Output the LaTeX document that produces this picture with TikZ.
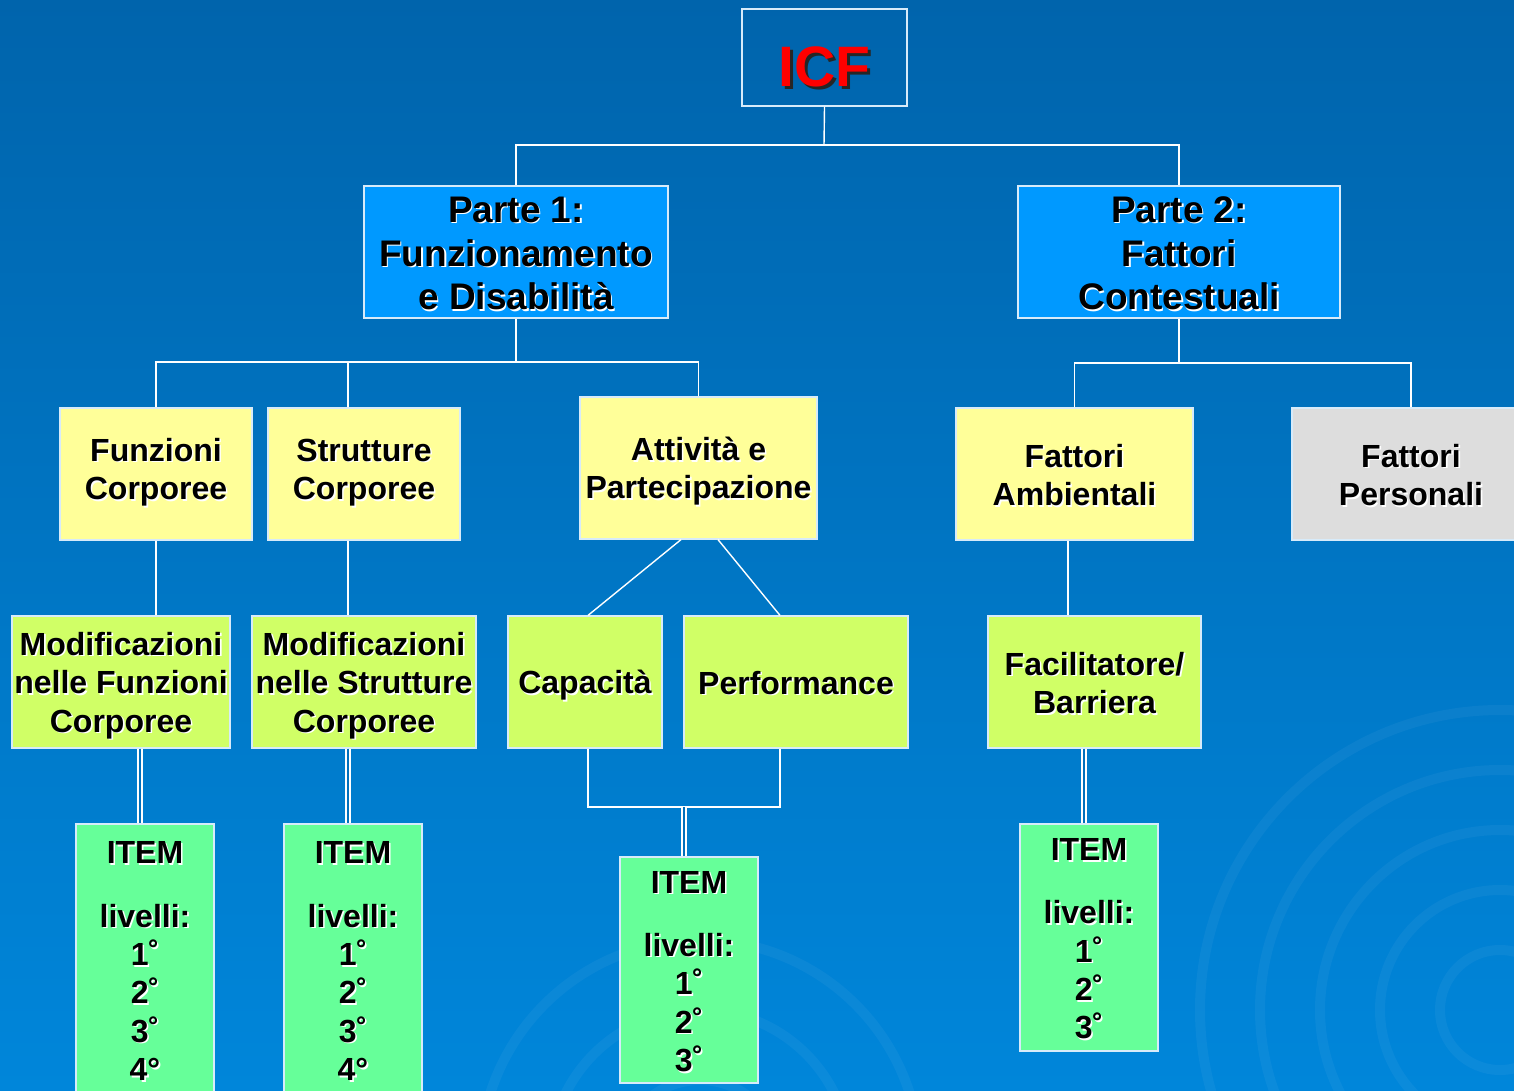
\documentclass[tikz,border=0pt]{standalone}
\usepackage{fontspec}
\setmainfont{Liberation Sans}
\usetikzlibrary{calc}
\definecolor{bgtop}{RGB}{0,100,172}
\definecolor{bgbot}{RGB}{0,134,218}
\definecolor{bgmid}{RGB}{0,112,188}
\definecolor{partfill}{RGB}{0,153,255}
\definecolor{yelfill}{RGB}{255,255,153}
\definecolor{limefill}{RGB}{208,255,102}
\definecolor{itemfill}{RGB}{102,255,153}
\definecolor{grayfill}{RGB}{221,221,221}
\definecolor{icfred}{RGB}{255,0,0}
\definecolor{edgecol}{RGB}{215,235,250}
\newcommand\tsh[1]{\makebox[0pt][l]{\hspace{1.6pt}\raisebox{-1.6pt}{\color{white}#1}}#1}
\newcommand\tl[1]{\rule[-0.18\baselineskip]{0pt}{\baselineskip}\tsh{#1}}
\newcommand\dsh[1]{\makebox[0pt][l]{\hspace{3pt}\raisebox{-3pt}{\color{black!85}#1}}#1}
\tikzset{
  box/.style={draw=edgecol, line width=1.2pt, rectangle, inner sep=0pt, align=center,
    font=\fontsize{32}{38.4}\selectfont\bfseries, text=black},
  partbox/.style={box, fill=partfill, font=\fontsize{37}{43.8}\selectfont\bfseries},
  yelbox/.style={box, fill=yelfill},
  limebox/.style={box, fill=limefill},
  graybox/.style={box, fill=grayfill},
  itembox/.style={box, fill=itemfill},
  conn/.style={draw=white, line width=1.4pt},
  dbl/.style={draw=white, line width=1.3pt, double=bgmid, double distance=2.6pt},
}
\begin{document}
\begin{tikzpicture}[x=1pt,y=-1pt]
\useasboundingbox (0,0) rectangle (1514,1091);
\clip (0,0) rectangle (1514,1091);
\shade[top color=bgtop, bottom color=bgbot] (0,0) rectangle (1514,1091);
% faint swirls
\begin{scope}[white, opacity=0.045, line width=10pt]
  \foreach \r in {60,120,180,240,300} {\draw (1500,1010) circle (\r);}
  \foreach \r in {80,150,220} {\draw (700,1160) circle (\r);}
\end{scope}

% nodes
\node[box, minimum width=165pt, minimum height=97pt, text height=70pt, text depth=11.2pt,
  font=\fontsize{57}{60}\selectfont\bfseries, text=icfred] (icf) at (824.5,57.5) {\dsh{ICF}};
\node[partbox, minimum width=304pt, minimum height=132pt] (p1) at (516,252)
  {\tl{Parte 1:}\\\tl{Funzionamento}\\\tl{e Disabilità}};
\node[partbox, minimum width=322pt, minimum height=132pt] (p2) at (1179,252)
  {\tl{Parte 2:}\\\tl{Fattori}\\\tl{Contestuali}};

\node[yelbox, minimum width=192pt, minimum height=132pt] (fun) at (156,474)
  {\tl{Funzioni}\\\tl{Corporee}\rule[-19pt]{0pt}{1pt}};
\node[yelbox, minimum width=192pt, minimum height=132pt] (str) at (364,474)
  {\tl{Strutture}\\\tl{Corporee}\rule[-19pt]{0pt}{1pt}};
\node[yelbox, minimum width=237pt, minimum height=142pt] (att) at (698.5,468)
  {\tl{Attività e}\\\tl{Partecipazione}};
\node[yelbox, minimum width=237pt, minimum height=132pt] (amb) at (1074.5,474)
  {\tl{Fattori}\\\tl{Ambientali}};
\node[graybox, minimum width=238pt, minimum height=132pt] (per) at (1411,474)
  {\tl{Fattori}\\\tl{Personali}};

\node[limebox, minimum width=218pt, minimum height=132pt] (mf) at (121,682)
  {\tl{Modificazioni}\\\tl{nelle Funzioni}\\\tl{Corporee}};
\node[limebox, minimum width=224pt, minimum height=132pt] (ms) at (364,682)
  {\tl{Modificazioni}\\\tl{nelle Strutture}\\\tl{Corporee}};
\node[limebox, minimum width=154pt, minimum height=132pt] (cap) at (585,682)
  {\tl{Capacità}};
\node[limebox, minimum width=224pt, minimum height=132pt] (perf) at (796,682)
  {\tl{Performance}};
\node[limebox, minimum width=213pt, minimum height=132pt] (fac) at (1094.5,682)
  {\tl{Facilitatore/}\\\tl{Barriera}};

\node[itembox, minimum width=138pt, minimum height=272pt] (i1) at (145,960)
  {\tl{ITEM}\\[24.7pt]\tl{livelli:}\\\tl{1˚}\\\tl{2˚}\\\tl{3˚}\\\tl{4°}};
\node[itembox, minimum width=138pt, minimum height=272pt] (i2) at (353,960)
  {\tl{ITEM}\\[24.7pt]\tl{livelli:}\\\tl{1˚}\\\tl{2˚}\\\tl{3˚}\\\tl{4°}};
\node[itembox, minimum width=138pt, minimum height=226pt] (i3) at (689,970)
  {\tl{ITEM}\\[24.7pt]\tl{livelli:}\\\tl{1˚}\\\tl{2˚}\\\tl{3˚}};
\node[itembox, minimum width=138pt, minimum height=227pt] (i4) at (1089,937.5)
  {\tl{ITEM}\\[24.7pt]\tl{livelli:}\\\tl{1˚}\\\tl{2˚}\\\tl{3˚}};

% junction coordinates
\coordinate (j0) at (824,145);
\coordinate (j1) at (516,362);
\coordinate (sx) at (348,362);
\coordinate (j2) at (1179,363);
\coordinate (j3) at (684,807);
\coordinate (d1) at (140,748);
\coordinate (d4) at (1084,748);
\coordinate (a1) at (1068,540);

% connectors
\draw[conn] (icf.south) -- (j0);
\draw[conn] (p1.north) -- (p1.north |- j0) -- (p2.north |- j0) -- (p2.north);
\draw[conn] (p1.south) -- (j1);
\draw[conn] (fun.north) -- (fun.north |- j1) -- (att.north |- j1) -- (att.north);
\draw[conn] (sx) -- (sx |- str.north);
\draw[conn] (p2.south) -- (j2);
\draw[conn] (amb.north) -- (amb.north |- j2) -- (per.north |- j2) -- (per.north);
\draw[conn] (fun.south) -- (fun.south |- mf.north);
\draw[conn] (sx |- str.south) -- (sx |- ms.north);
\draw[conn] ([xshift=-17.5pt]att.south) -- ([xshift=3pt]cap.north);
\draw[conn] ([xshift=19.5pt]att.south) -- ([xshift=-16pt]perf.north);
\draw[conn] ([xshift=3pt]cap.south) -- ([xshift=3pt]cap.south |- j3) -- ([xshift=-16pt]perf.south |- j3) -- ([xshift=-16pt]perf.south);
\draw[conn] (a1 |- amb.south) -- (a1 |- fac.north);
\draw[dbl] (j3) -- (j3 |- i3.north);
\draw[dbl] (d1 |- mf.south) -- (d1 |- i1.north);
\draw[dbl] (sx |- ms.south) -- (sx |- i2.north);
\draw[dbl] (d4 |- fac.south) -- (d4 |- i4.north);
\end{tikzpicture}
\end{document}
